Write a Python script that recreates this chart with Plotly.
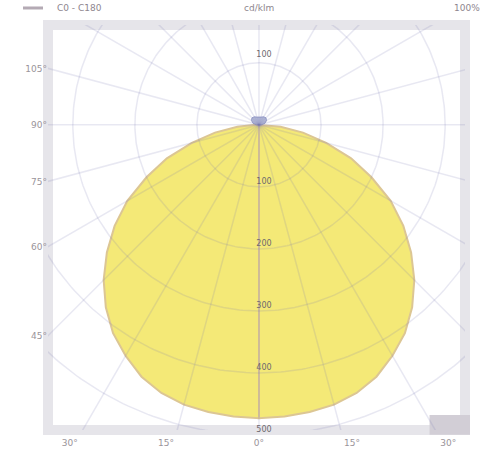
import numpy as np
import plotly.graph_objects as go

# ---- data (cd/klm) ----
angles = [0, 5, 10, 15, 20, 25, 30, 35, 40, 45, 50, 55, 60, 65, 70, 75, 80, 85, 90]
c0_c180 = [473, 472, 470, 467, 460, 448, 430, 410, 384, 354, 320, 284, 245, 200, 158, 112, 72, 35, 5]
up_angles = [90, 105, 120, 135, 150, 165, 180]
up_values = [4, 10, 14, 16, 15, 13, 12]
ring_values = [100, 200, 300, 400, 500]
left_tick_angles = [105, 90, 75, 60, 45]
left_tick_labels = ["105°", "90°", "75°", "60°", "45°"]
bottom_tick_pos = [-305, -150, 0, 150, 305]
bottom_tick_labels = ["30°", "15°", "0°", "15°", "30°"]

X_RANGE = [-340, 332]
Y_RANGE = [-492, 161]

fig = go.Figure()

def polar_xy(ang_deg, r, side):
    a = np.radians(np.asarray(ang_deg, dtype=float))
    r = np.asarray(r, dtype=float)
    return side * r * np.sin(a), -r * np.cos(a)

# distribution body (mirrored about the 0° axis)
xr, yr = polar_xy(angles, c0_c180, 1)
xl, yl = polar_xy(angles[::-1], c0_c180[::-1], -1)
fig.add_trace(go.Scatter(x=np.concatenate([[0], xr, xl, [0]]),
                         y=np.concatenate([[0], yr, yl, [0]]),
                         mode="lines", fill="toself",
                         fillcolor="#f4e977", line=dict(color="#dcc694", width=2),
                         hoverinfo="skip", showlegend=False))

# small upward lobe (blue)
ux1, uy1 = polar_xy(up_angles, up_values, 1)
ux2, uy2 = polar_xy(up_angles[::-1], up_values[::-1], -1)
fig.add_trace(go.Scatter(x=np.concatenate([[0], ux1, ux2, [0]]),
                         y=np.concatenate([[0], uy1, uy2, [0]]),
                         mode="lines", fill="toself", fillcolor="rgba(150,158,200,0.7)",
                         line=dict(color="rgba(140,148,195,0.8)", width=1),
                         hoverinfo="skip", showlegend=False))

# polar grid: rings and radial lines
grid_col = "rgba(120,120,175,0.17)"
t = np.linspace(0, 2 * np.pi, 361)
for r in range(100, 700, 100):
    fig.add_trace(go.Scatter(x=r * np.sin(t), y=-r * np.cos(t), mode="lines",
                             line=dict(color=grid_col, width=1.5),
                             hoverinfo="skip", showlegend=False))
for a in range(0, 180, 15):
    ar = np.radians(a)
    fig.add_trace(go.Scatter(x=[-700 * np.sin(ar), 700 * np.sin(ar)],
                             y=[700 * np.cos(ar), -700 * np.cos(ar)], mode="lines",
                             line=dict(color=grid_col, width=1.5),
                             hoverinfo="skip", showlegend=False))

# ring value labels on the 0° axis (below) and one above
lab_y = [-v + 8 for v in ring_values] + [ring_values[0] + 12]
lab_t = [str(v) for v in ring_values] + [str(ring_values[0])]
fig.add_trace(go.Scatter(x=[8] * len(lab_y), y=lab_y, mode="text", text=lab_t,
                         textfont=dict(size=8, color="#6e686e", family="DejaVu Sans"),
                         cliponaxis=False, hoverinfo="skip", showlegend=False))

# tick positions where radial lines meet the left frame
left_tick_pos = [X_RANGE[0] / np.tan(np.radians(a)) if a != 90 else 0 for a in left_tick_angles]

fig.update_layout(
    width=484, height=452,
    margin=dict(l=48, r=19, t=25, b=22, autoexpand=False),
    paper_bgcolor="white", plot_bgcolor="rgba(0,0,0,0)",
    xaxis=dict(range=X_RANGE, showgrid=False, zeroline=False, showline=False, automargin=False,
               tickmode="array", tickvals=bottom_tick_pos, ticktext=bottom_tick_labels,
               ticks="", ticklabelstandoff=6,
               tickfont=dict(size=9, color="#9a949a", family="DejaVu Sans")),
    yaxis=dict(range=Y_RANGE, showgrid=False, zeroline=False, showline=False, automargin=False,
               tickmode="array", tickvals=left_tick_pos, ticktext=left_tick_labels,
               ticks="", tickfont=dict(size=9, color="#9a949a", family="DejaVu Sans")),
    shapes=[
        dict(type="rect", xref="paper", yref="paper", x0=0, x1=1, y0=0, y1=1,
             line=dict(color="#e6e5ea", width=10), layer="below"),
        dict(type="rect", xref="paper", yref="paper", x0=0.915, x1=1.012, y0=-0.012, y1=0.037,
             fillcolor="#d2ced6", line=dict(width=0), layer="below"),
        dict(type="line", xref="paper", yref="paper", x0=-0.06, x1=-0.012, y0=1.042, y1=1.042,
             line=dict(color="#b4aab4", width=3)),
    ],
    annotations=[
        dict(text="C0 - C180", xref="paper", yref="paper", x=0.017, y=1.042,
             xanchor="left", yanchor="middle", showarrow=False,
             font=dict(size=9, color="#8e868e", family="DejaVu Sans")),
        dict(text="cd/klm", xref="paper", yref="paper", x=0.507, y=1.042,
             xanchor="center", yanchor="middle", showarrow=False,
             font=dict(size=9, color="#8e868e", family="DejaVu Sans")),
        dict(text="100%", xref="paper", yref="paper", x=1.04, y=1.042,
             xanchor="right", yanchor="middle", showarrow=False,
             font=dict(size=9, color="#8e868e", family="DejaVu Sans")),
    ],
)

fig.write_html("out.html", config={"displayModeBar": False},
               post_script="document.body.style.margin='0';")
